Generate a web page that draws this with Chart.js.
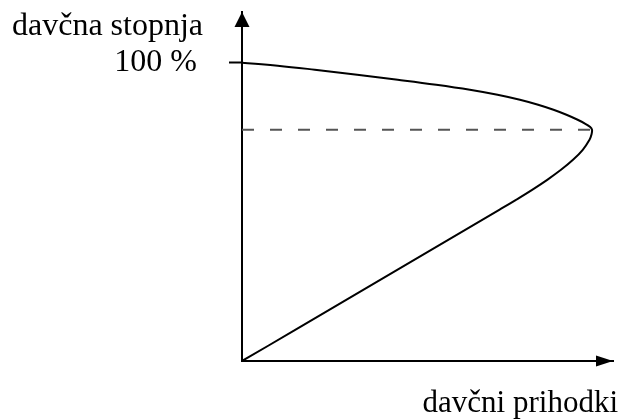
<!DOCTYPE html>
<html>

<head>
    <meta charset="UTF-8">
    <title>Davčna stopnja in davčni prihodki</title>
    <style>
        html,
        body {
            margin: 0;
            padding: 0;
            background: #fff;
        }

        #wrap {
            width: 623px;
            height: 420px;
            position: relative;
        }
    </style>
</head>

<body>
    <div id="wrap">
        <canvas id="chart"></canvas>
    </div>

    <script src="https://cdn.jsdelivr.net/npm/chart.js"></script>
    <script>
        // Lafferjeva krivulja: x = davčni prihodki, y = davčna stopnja (%)
        // zgornji del (od 100 % do vrha prihodkov)
        const revenueUpper = [0, 10.2, 20.8, 32.9, 44.5, 55.5, 65.1, 73.0, 79.4, 84.6, 89.0, 92.7, 95.9, 98.1, 99.4, 100];
        const rateUpper = [100, 99.0, 97.65, 95.97, 94.3, 92.62, 90.94, 89.26, 87.58, 85.91, 84.23, 82.55, 80.87, 79.53, 78.52, 77.52];
        // spodnji del (od vrha prihodkov do 0 %)
        const revenueLower = [99.83, 99.29, 97.36, 94.57, 91.14, 87.21, 82.89, 78.29, 73.49, 54.06, 34.63, 15.2, 0];
        const rateLower = [75.84, 74.16, 70.81, 67.45, 64.09, 60.74, 57.38, 54.03, 50.67, 37.25, 23.83, 10.4, 0];
        const maxRevenueRate = 77.52;
        const yTicks = [100];
        const yLabel = "davčna stopnja";
        const xLabel = "davčni prihodki";

        const serif = "'Liberation Serif', 'Times New Roman', serif";

        const revenue = revenueUpper.concat(revenueLower);
        const taxRate = rateUpper.concat(rateLower);
        const curve = revenue.map((x, i) => ({ x: x, y: taxRate[i] }));
        const dashed = [
            { x: 0, y: maxRevenueRate },
            { x: Math.max(...revenue), y: maxRevenueRate }
        ];

        // puščice na oseh in napisi
        const axisArrows = {
            id: "axisArrows",
            afterDraw(chart) {
                const ctx = chart.ctx;
                const a = chart.chartArea;
                ctx.save();
                ctx.fillStyle = "#000";
                // navpična puščica
                ctx.beginPath();
                ctx.moveTo(a.left, a.top);
                ctx.lineTo(a.left - 7.5, a.top + 15);
                ctx.lineTo(a.left + 7.5, a.top + 15);
                ctx.closePath();
                ctx.fill();
                // vodoravna puščica
                ctx.beginPath();
                ctx.moveTo(a.right, a.bottom);
                ctx.lineTo(a.right - 17, a.bottom - 5.5);
                ctx.lineTo(a.right - 17, a.bottom + 5.5);
                ctx.closePath();
                ctx.fill();

                ctx.font = "32px " + serif;
                ctx.textBaseline = "alphabetic";
                ctx.textAlign = "left";
                ctx.fillText(yLabel, a.left - 230, a.top + 23);
                ctx.font = "31px " + serif;
                ctx.textAlign = "right";
                ctx.fillText(xLabel, a.right + 5, a.bottom + 51);
                ctx.restore();
            }
        };

        const ctx = document.querySelector("#chart").getContext("2d");
        const chart = new Chart(ctx, {
            type: "scatter",
            data: {
                datasets: [{
                    data: curve,
                    showLine: true,
                    borderColor: "#000",
                    borderWidth: 2,
                    pointRadius: 0,
                    tension: 0.4,
                }, {
                    data: dashed,
                    showLine: true,
                    borderColor: "#555",
                    borderWidth: 2,
                    borderDash: [12, 16],
                    pointRadius: 0,
                }],
            },
            options: {
                responsive: true,
                maintainAspectRatio: false,
                animation: false,
                layout: {
                    padding: { left: 0, right: 10, top: 12, bottom: 0 }
                },
                plugins: {
                    legend: { display: false },
                    tooltip: { enabled: false },
                },
                scales: {
                    x: {
                        type: "linear",
                        min: 0,
                        max: 106,
                        afterFit(axis) {
                            axis.height = 59;
                            axis.paddingLeft = 0;
                            axis.paddingRight = 0;
                        },
                        ticks: { display: false },
                        grid: { display: true, drawOnChartArea: false, drawTicks: false },
                        border: { display: true, color: "#000", width: 2 },
                    },
                    y: {
                        type: "linear",
                        min: 0,
                        max: 117,
                        afterBuildTicks(axis) { axis.ticks = yTicks.map(v => ({ value: v })); },
                        afterFit(axis) {
                            axis.width = 242;
                            axis.paddingTop = 0;
                            axis.paddingBottom = 0;
                        },
                        ticks: {
                            callback: v => v + " %",
                            color: "#000",
                            padding: 32,
                            font: { family: serif, size: 32 },
                        },
                        grid: {
                            display: true,
                            drawOnChartArea: false,
                            drawTicks: true,
                            tickLength: 13,
                            tickWidth: 2,
                            tickColor: "#000",
                        },
                        border: { display: true, color: "#000", width: 2 },
                    },
                },
            },
            plugins: [axisArrows],
        });
    </script>
</body>

</html>
